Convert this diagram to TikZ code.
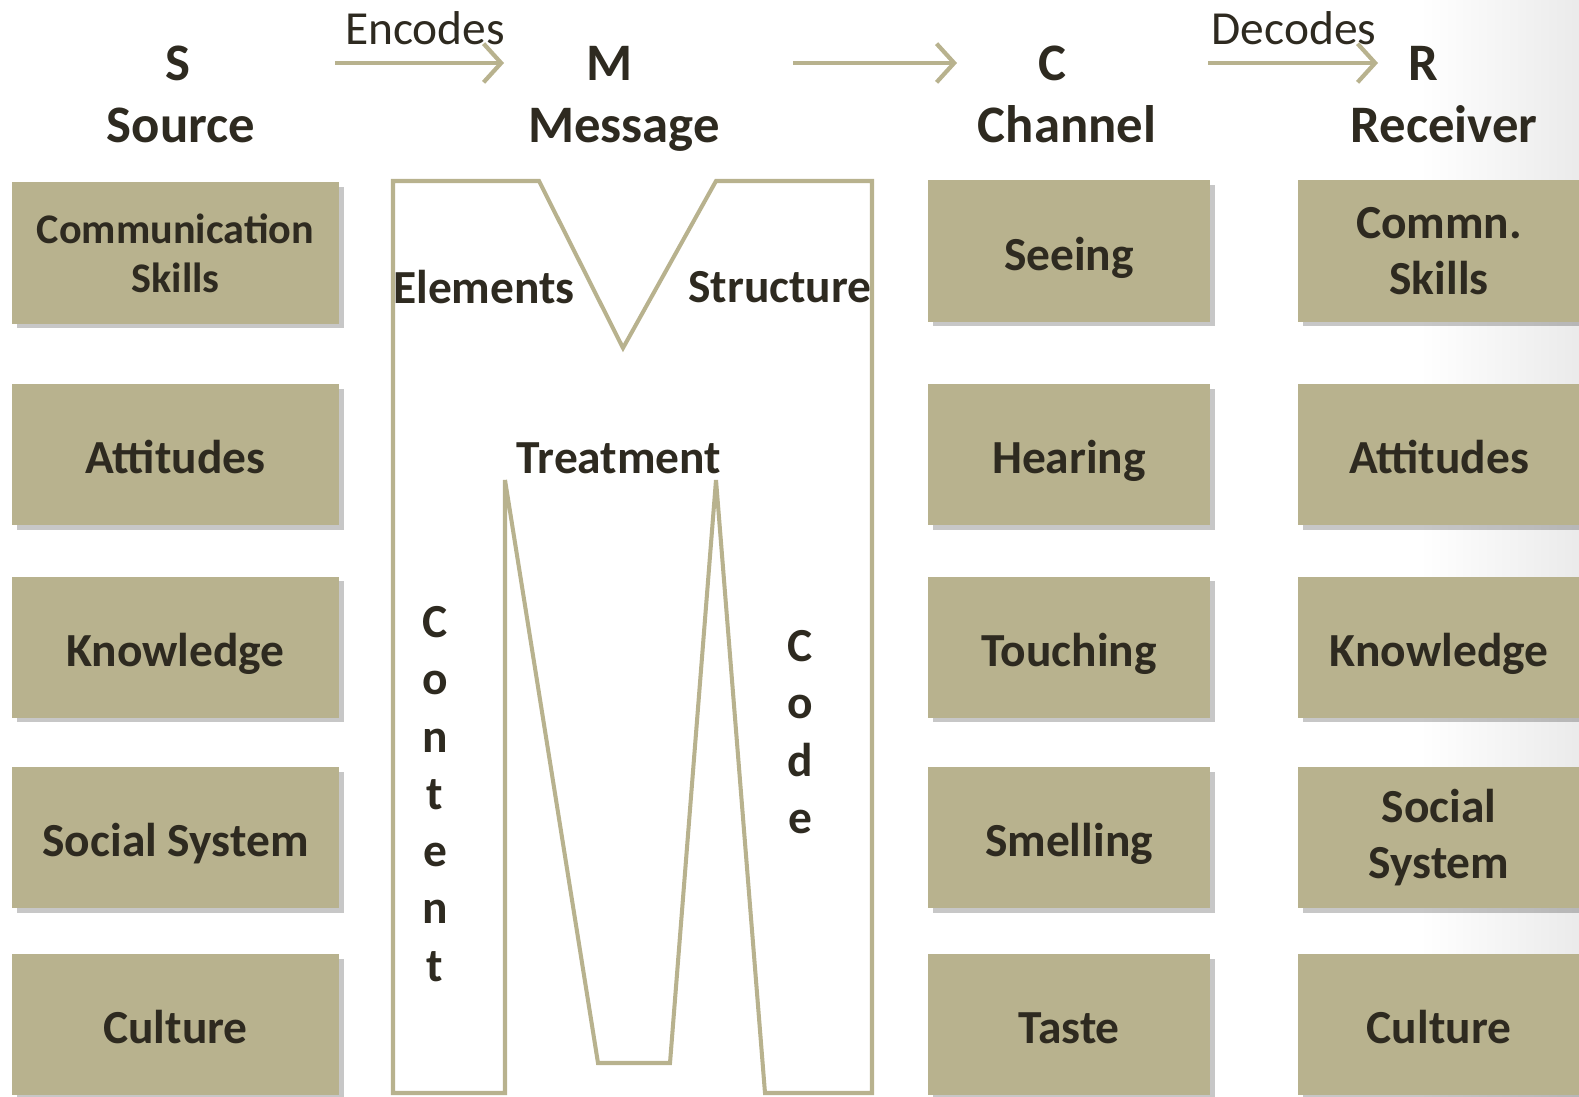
\documentclass[tikz,border=0pt]{standalone}
\usepackage{fontspec}
\setmainfont{Carlito}
\usetikzlibrary{arrows.meta,shadows}
\definecolor{tan}{RGB}{184,178,142}
\definecolor{ink}{RGB}{46,42,32}

\begin{document}
\begin{tikzpicture}[line width=1.15pt,
    box/.style={fill=tan, minimum height=1.41cm, inner sep=0pt, align=center, text=ink,
        font=\bfseries\fontsize{13.5}{16}\selectfont,
        drop shadow={shadow xshift=1.3pt, shadow yshift=-1.3pt, opacity=0.22, fill=black}},
    one/.style={box, text height=11pt, text depth=0pt},
    head/.style={text=ink, inner sep=0pt, anchor=base, font=\bfseries\fontsize{15}{18}\selectfont},
    lab/.style={text=ink, inner sep=0pt, align=center, font=\bfseries\fontsize{13.5}{16.3}\selectfont},
    verb/.style={text=ink, inner sep=0pt, anchor=base, font=\fontsize{13.5}{16}\selectfont},
    flow/.style={tan, line width=1.2pt, -{Straight Barb[length=5pt,width=11pt,line width=1.2pt]}},
    mline/.style={tan, line width=1.15pt, line join=miter}]
                \useasboundingbox (0,0) rectangle (15.79,-10.97);
                \fill[left color=white, right color=black!8] (14.2,0) rectangle (15.79,-10.97);

                % heads
                \node[head] (S) at (1.78, -0.81) {S};
                \node[head] (M) at (6.10, -0.81) {M};
                \node[head] (C) at (10.52, -0.81) {C};
                \node[head] (R) at (14.23, -0.81) {R};
                \node[head] (source) at (1.81, -1.43) {Source};
                \node[head] (message) at (6.24, -1.43) {Message};
                \node[head] (channel) at (10.67, -1.43) {Channel};
                \node[head] (receiver) at (14.44, -1.43) {Receiver};

                \node[verb] (encodes) at (4.25, -0.45) {Encodes};
                \node[verb] (decodes) at (12.94, -0.45) {Decodes};
                \coordinate (a1) at (3.35, -0.63);
                \coordinate (a2) at (5.04, -0.63);
                \coordinate (b1) at (7.93, -0.63);
                \coordinate (b2) at (9.57, -0.63);
                \coordinate (c1) at (12.08, -0.63);
                \coordinate (c2) at (13.78, -0.63);
                \draw[flow] (a1) to (a2);
                \draw[flow] (b1) to (b2);
                \draw[flow] (c1) to (c2);

                % source
                \node[box, minimum width=3.27cm, font=\bfseries\fontsize{12}{14}\selectfont] (src1) at (1.755, -2.53) {Communication\\Skills};
                \node[one, minimum width=3.27cm] (src2) at (1.755, -4.545) {Attitudes};
                \node[one, minimum width=3.27cm] (src3) at (1.755, -6.47) {Knowledge};
                \node[one, minimum width=3.27cm] (src4) at (1.755, -8.375) {Social System};
                \node[one, minimum width=3.27cm] (src5) at (1.755, -10.245) {Culture};

                % channel
                \node[one, minimum width=2.82cm] (chn1) at (10.69, -2.51) {Seeing};
                \node[one, minimum width=2.82cm] (chn2) at (10.69, -4.545) {Hearing};
                \node[one, minimum width=2.82cm] (chn3) at (10.69, -6.47) {Touching};
                \node[one, minimum width=2.82cm] (chn4) at (10.69, -8.375) {Smelling};
                \node[one, minimum width=2.82cm] (chn5) at (10.69, -10.245) {Taste};

                % receiver
                \node[box, minimum width=2.82cm] (rcv1) at (14.39, -2.51) {Commn.\\Skills};
                \node[one, minimum width=2.82cm] (rcv2) at (14.39, -4.545) {Attitudes};
                \node[one, minimum width=2.82cm] (rcv3) at (14.39, -6.47) {Knowledge};
                \node[box, minimum width=2.82cm] (rcv4) at (14.39, -8.375) {Social\\System};
                \node[one, minimum width=2.82cm] (rcv5) at (14.39, -10.245) {Culture};

                % message
                \draw[mline] (3.93,-1.81) -- (5.39,-1.81) -- (6.23,-3.48) -- (7.16,-1.81)
                    -- (8.72,-1.81) -- (8.72,-10.93) -- (7.65,-10.93) -- (7.16,-4.80)
                    -- (6.70,-10.63) -- (5.98,-10.63) -- (5.05,-4.80) -- (5.05,-10.93)
                    -- (3.93,-10.93) -- cycle;
                \node[lab] (elements) at (4.84, -2.87) {Elements};
                \node[lab] (structure) at (7.80, -2.87) {Structure};
                \node[lab] (treatment) at (6.19, -4.58) {Treatment};
                \node[lab] (content) at (4.35, -7.94) {C\\o\\n\\t\\e\\n\\t};
                \node[lab] (code) at (8.00, -7.32) {C\\o\\d\\e};
\end{tikzpicture}
\end{document}
